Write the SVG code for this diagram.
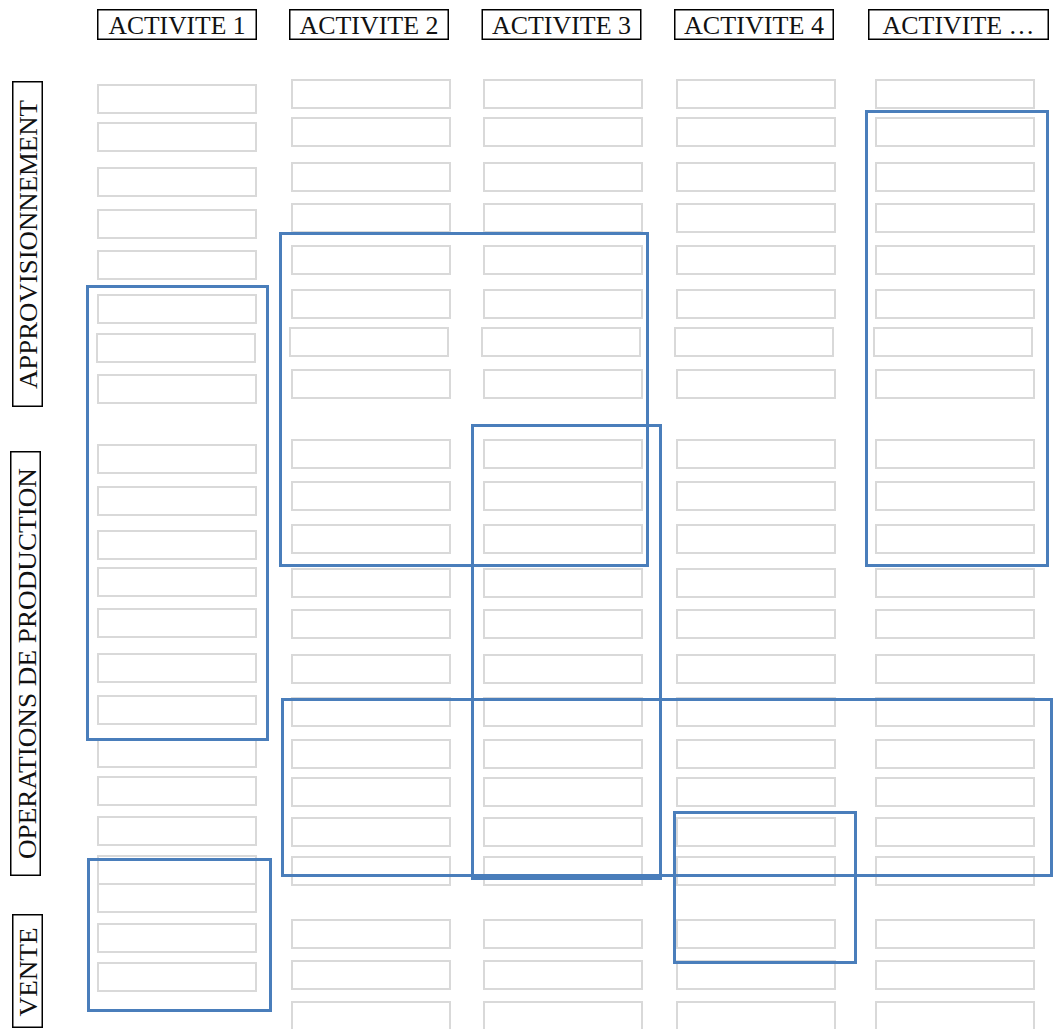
<svg xmlns="http://www.w3.org/2000/svg" width="1053" height="1029" viewBox="0 0 1053 1029">
<style>
.hd{fill:#fff;stroke:#000;stroke-width:1.5}
.t{font-family:"Liberation Serif","Times New Roman",serif;font-size:25px;fill:#111;text-anchor:middle}
.c{fill:#fff;stroke:#d9d9d9;stroke-width:2}
.b{fill:none;stroke:#4a7ebb;stroke-width:3}
</style>
<rect width="1053" height="1029" fill="#fff"/>
<g id="headers">
<g id="h1"><rect class="hd" x="97.75" y="9.75" width="158.5" height="29.5"/><text class="t" x="177" y="34" textLength="137" lengthAdjust="spacingAndGlyphs">ACTIVITE 1</text></g>
<g id="h2"><rect class="hd" x="289.75" y="9.75" width="158.5" height="29.5"/><text class="t" x="369" y="34" textLength="139" lengthAdjust="spacingAndGlyphs">ACTIVITE 2</text></g>
<g id="h3"><rect class="hd" x="482.25" y="9.75" width="158.5" height="29.5"/><text class="t" x="561.5" y="34" textLength="139" lengthAdjust="spacingAndGlyphs">ACTIVITE 3</text></g>
<g id="h4"><rect class="hd" x="674.75" y="9.75" width="158.5" height="29.5"/><text class="t" x="754" y="34" textLength="140" lengthAdjust="spacingAndGlyphs">ACTIVITE 4</text></g>
<g id="h5"><rect class="hd" x="868.75" y="9.75" width="179.5" height="29.5"/><text class="t" x="958.5" y="34" textLength="152" lengthAdjust="spacingAndGlyphs">ACTIVITE …</text></g>
</g>
<g id="rows">
<g id="r1"><rect class="hd" x="12.75" y="81.75" width="29.5" height="324.5"/><text class="t" transform="translate(37,244.5) rotate(-90)" textLength="289" lengthAdjust="spacingAndGlyphs">APPROVISIONNEMENT</text></g>
<g id="r2"><rect class="hd" x="10.75" y="451.75" width="29.5" height="423.5"/><text class="t" transform="translate(36,663.5) rotate(-90)" textLength="391" lengthAdjust="spacingAndGlyphs">OPERATIONS DE PRODUCTION</text></g>
<g id="r3"><rect class="hd" x="12.75" y="914.75" width="29.5" height="112.5"/><text class="t" transform="translate(37,972) rotate(-90)" textLength="89" lengthAdjust="spacingAndGlyphs">VENTE</text></g>
</g>
<g id="col1">
<rect class="c" x="98" y="85" width="158" height="28"/>
<rect class="c" x="98" y="123" width="158" height="28"/>
<rect class="c" x="98" y="168" width="158" height="28"/>
<rect class="c" x="98" y="210" width="158" height="28"/>
<rect class="c" x="98" y="251" width="158" height="28"/>
<rect class="c" x="98" y="295" width="158" height="28"/>
<rect class="c" x="97" y="334" width="158" height="28"/>
<rect class="c" x="98" y="375" width="158" height="28"/>
<rect class="c" x="98" y="445" width="158" height="28"/>
<rect class="c" x="98" y="487" width="158" height="28"/>
<rect class="c" x="98" y="531" width="158" height="28"/>
<rect class="c" x="98" y="568" width="158" height="28"/>
<rect class="c" x="98" y="609" width="158" height="28"/>
<rect class="c" x="98" y="654" width="158" height="28"/>
<rect class="c" x="98" y="696" width="158" height="28"/>
<rect class="c" x="98" y="739" width="158" height="28"/>
<rect class="c" x="98" y="777" width="158" height="28"/>
<rect class="c" x="98" y="817" width="158" height="28"/>
<rect class="c" x="98" y="856" width="158" height="28"/>
<rect class="c" x="98" y="884" width="158" height="28"/>
<rect class="c" x="98" y="924" width="158" height="28"/>
<rect class="c" x="98" y="963" width="158" height="28"/>
</g>
<g id="col2">
<rect class="c" x="292" y="80" width="158" height="28"/>
<rect class="c" x="292" y="118" width="158" height="28"/>
<rect class="c" x="292" y="163" width="158" height="28"/>
<rect class="c" x="292" y="204" width="158" height="28"/>
<rect class="c" x="292" y="246" width="158" height="28"/>
<rect class="c" x="292" y="290" width="158" height="28"/>
<rect class="c" x="290" y="328" width="158" height="28"/>
<rect class="c" x="292" y="370" width="158" height="28"/>
<rect class="c" x="292" y="440" width="158" height="28"/>
<rect class="c" x="292" y="482" width="158" height="28"/>
<rect class="c" x="292" y="525" width="158" height="28"/>
<rect class="c" x="292" y="569" width="158" height="28"/>
<rect class="c" x="292" y="610" width="158" height="28"/>
<rect class="c" x="292" y="655" width="158" height="28"/>
<rect class="c" x="292" y="698" width="158" height="28"/>
<rect class="c" x="292" y="740" width="158" height="28"/>
<rect class="c" x="292" y="778" width="158" height="28"/>
<rect class="c" x="292" y="818" width="158" height="28"/>
<rect class="c" x="292" y="857" width="158" height="28"/>
<rect class="c" x="292" y="920" width="158" height="28"/>
<rect class="c" x="292" y="961" width="158" height="28"/>
<rect class="c" x="292" y="1002" width="158" height="28"/>
</g>
<g id="col3">
<rect class="c" x="484" y="80" width="158" height="28"/>
<rect class="c" x="484" y="118" width="158" height="28"/>
<rect class="c" x="484" y="163" width="158" height="28"/>
<rect class="c" x="484" y="204" width="158" height="28"/>
<rect class="c" x="484" y="246" width="158" height="28"/>
<rect class="c" x="484" y="290" width="158" height="28"/>
<rect class="c" x="482" y="328" width="158" height="28"/>
<rect class="c" x="484" y="370" width="158" height="28"/>
<rect class="c" x="484" y="440" width="158" height="28"/>
<rect class="c" x="484" y="482" width="158" height="28"/>
<rect class="c" x="484" y="525" width="158" height="28"/>
<rect class="c" x="484" y="569" width="158" height="28"/>
<rect class="c" x="484" y="610" width="158" height="28"/>
<rect class="c" x="484" y="655" width="158" height="28"/>
<rect class="c" x="484" y="698" width="158" height="28"/>
<rect class="c" x="484" y="740" width="158" height="28"/>
<rect class="c" x="484" y="778" width="158" height="28"/>
<rect class="c" x="484" y="818" width="158" height="28"/>
<rect class="c" x="484" y="857" width="158" height="28"/>
<rect class="c" x="484" y="920" width="158" height="28"/>
<rect class="c" x="484" y="961" width="158" height="28"/>
<rect class="c" x="484" y="1002" width="158" height="28"/>
</g>
<g id="col4">
<rect class="c" x="677" y="80" width="158" height="28"/>
<rect class="c" x="677" y="118" width="158" height="28"/>
<rect class="c" x="677" y="163" width="158" height="28"/>
<rect class="c" x="677" y="204" width="158" height="28"/>
<rect class="c" x="677" y="246" width="158" height="28"/>
<rect class="c" x="677" y="290" width="158" height="28"/>
<rect class="c" x="675" y="328" width="158" height="28"/>
<rect class="c" x="677" y="370" width="158" height="28"/>
<rect class="c" x="677" y="440" width="158" height="28"/>
<rect class="c" x="677" y="482" width="158" height="28"/>
<rect class="c" x="677" y="525" width="158" height="28"/>
<rect class="c" x="677" y="569" width="158" height="28"/>
<rect class="c" x="677" y="610" width="158" height="28"/>
<rect class="c" x="677" y="655" width="158" height="28"/>
<rect class="c" x="677" y="698" width="158" height="28"/>
<rect class="c" x="677" y="740" width="158" height="28"/>
<rect class="c" x="677" y="778" width="158" height="28"/>
<rect class="c" x="677" y="818" width="158" height="28"/>
<rect class="c" x="677" y="857" width="158" height="28"/>
<rect class="c" x="677" y="920" width="158" height="28"/>
<rect class="c" x="677" y="961" width="158" height="28"/>
<rect class="c" x="677" y="1002" width="158" height="28"/>
</g>
<g id="col5">
<rect class="c" x="876" y="80" width="158" height="28"/>
<rect class="c" x="876" y="118" width="158" height="28"/>
<rect class="c" x="876" y="163" width="158" height="28"/>
<rect class="c" x="876" y="204" width="158" height="28"/>
<rect class="c" x="876" y="246" width="158" height="28"/>
<rect class="c" x="876" y="290" width="158" height="28"/>
<rect class="c" x="874" y="328" width="158" height="28"/>
<rect class="c" x="876" y="370" width="158" height="28"/>
<rect class="c" x="876" y="440" width="158" height="28"/>
<rect class="c" x="876" y="482" width="158" height="28"/>
<rect class="c" x="876" y="525" width="158" height="28"/>
<rect class="c" x="876" y="569" width="158" height="28"/>
<rect class="c" x="876" y="610" width="158" height="28"/>
<rect class="c" x="876" y="655" width="158" height="28"/>
<rect class="c" x="876" y="698" width="158" height="28"/>
<rect class="c" x="876" y="740" width="158" height="28"/>
<rect class="c" x="876" y="778" width="158" height="28"/>
<rect class="c" x="876" y="818" width="158" height="28"/>
<rect class="c" x="876" y="857" width="158" height="28"/>
<rect class="c" x="876" y="920" width="158" height="28"/>
<rect class="c" x="876" y="961" width="158" height="28"/>
<rect class="c" x="876" y="1002" width="158" height="28"/>
</g>
<g id="groupings">
<rect id="b1" class="b" x="87.5" y="286.5" width="180" height="453"/>
<rect id="b2" class="b" x="280.5" y="233.5" width="367" height="332"/>
<rect id="b3" class="b" x="472.5" y="425.5" width="188" height="453"/>
<rect id="b4" class="b" x="866.5" y="111.5" width="181" height="454"/>
<rect id="b5" class="b" x="282.5" y="699.5" width="769" height="176"/>
<rect id="b6" class="b" x="674.5" y="812.5" width="181" height="150"/>
<rect id="b7" class="b" x="88.5" y="859.5" width="182" height="151"/>
</g>
<g id="connectors"/>
</svg>
